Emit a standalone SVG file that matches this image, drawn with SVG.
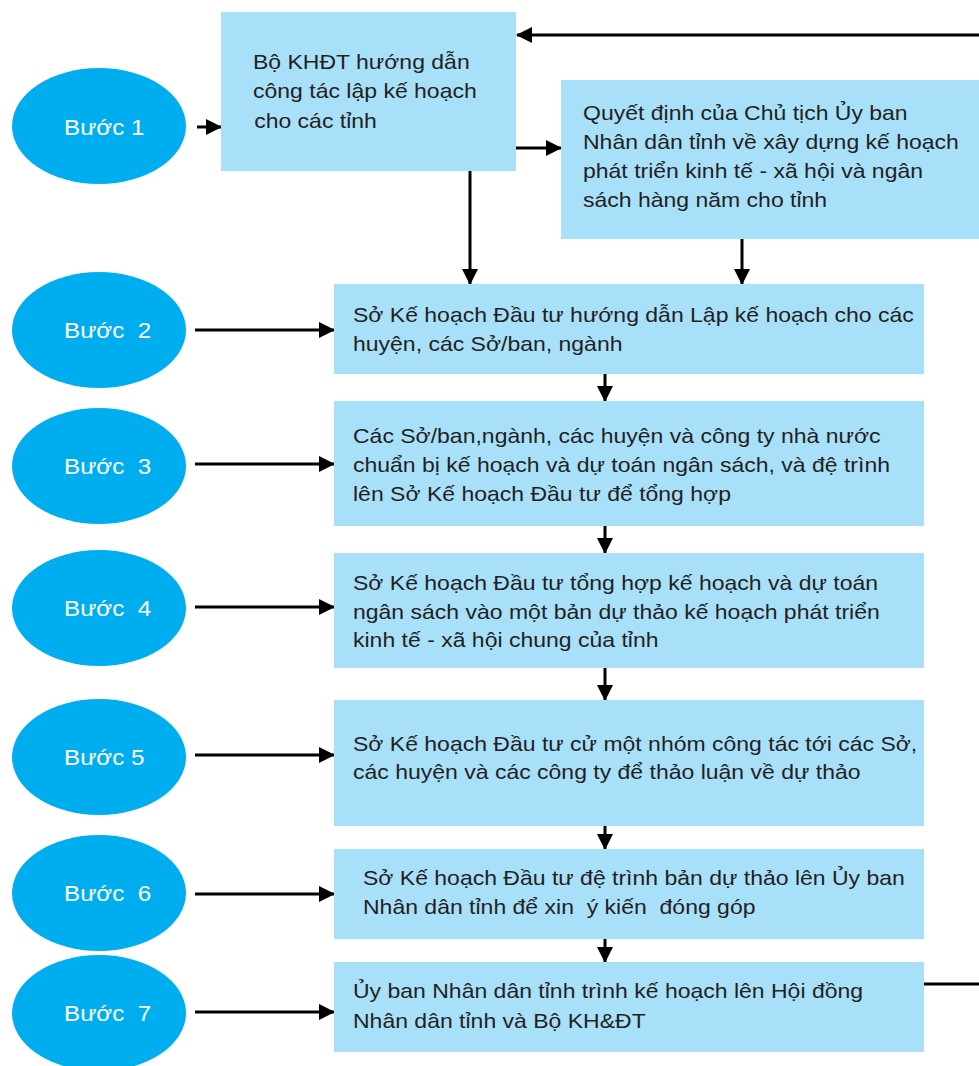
<svg xmlns="http://www.w3.org/2000/svg" width="979" height="1066" viewBox="0 0 979 1066">
<style>
.box{fill:#a9e0f9}
.ell{fill:#00aeef}
.t{font-family:"Liberation Sans",Arial,sans-serif;font-size:20px;fill:#231f20}
.s{font-family:"Liberation Sans",Arial,sans-serif;font-size:22px;fill:#ffffff}
.c{stroke:#000;stroke-width:3;fill:none}
</style>
<defs>
<marker id="ah" markerUnits="userSpaceOnUse" markerWidth="16" markerHeight="16" refX="15" refY="8" orient="auto">
<path d="M0,0 L16,8 L0,16 Z" fill="#000"/>
</marker>
</defs>
<rect width="979" height="1066" fill="#fff"/>
<g id="connectors">
<line class="c" x1="979" y1="35" x2="517" y2="35" marker-end="url(#ah)"/>
<line class="c" x1="197" y1="127" x2="221" y2="127" marker-end="url(#ah)"/>
<line class="c" x1="516" y1="148" x2="561" y2="148" marker-end="url(#ah)"/>
<line class="c" x1="470" y1="171" x2="470" y2="284" marker-end="url(#ah)"/>
<line class="c" x1="742" y1="238" x2="742" y2="284" marker-end="url(#ah)"/>
<line class="c" x1="195" y1="330" x2="334" y2="330" marker-end="url(#ah)"/>
<line class="c" x1="195" y1="464" x2="334" y2="464" marker-end="url(#ah)"/>
<line class="c" x1="195" y1="607" x2="334" y2="607" marker-end="url(#ah)"/>
<line class="c" x1="195" y1="755" x2="334" y2="755" marker-end="url(#ah)"/>
<line class="c" x1="195" y1="894" x2="334" y2="894" marker-end="url(#ah)"/>
<line class="c" x1="195" y1="1012" x2="334" y2="1012" marker-end="url(#ah)"/>
<line class="c" x1="605" y1="374" x2="605" y2="401" marker-end="url(#ah)"/>
<line class="c" x1="605" y1="526" x2="605" y2="553" marker-end="url(#ah)"/>
<line class="c" x1="605" y1="668" x2="605" y2="700" marker-end="url(#ah)"/>
<line class="c" x1="605" y1="826" x2="605" y2="849" marker-end="url(#ah)"/>
<line class="c" x1="605" y1="939" x2="605" y2="962" marker-end="url(#ah)"/>
<line class="c" x1="923" y1="984" x2="979" y2="984"/>
</g>
<g id="buoc1"><ellipse class="ell" cx="99" cy="126" rx="87" ry="58"/><text class="s" transform="translate(64 0) scale(1.1 1)" x="0" y="135">Bước 1</text></g>
<g id="buoc2"><ellipse class="ell" cx="99" cy="330" rx="87" ry="58"/><text class="s" transform="translate(64 0) scale(1.1 1)" x="0" y="338" xml:space="preserve">Bước  2</text></g>
<g id="buoc3"><ellipse class="ell" cx="99" cy="466" rx="87" ry="58"/><text class="s" transform="translate(64 0) scale(1.1 1)" x="0" y="474" xml:space="preserve">Bước  3</text></g>
<g id="buoc4"><ellipse class="ell" cx="99" cy="608" rx="87" ry="58"/><text class="s" transform="translate(64 0) scale(1.1 1)" x="0" y="616" xml:space="preserve">Bước  4</text></g>
<g id="buoc5"><ellipse class="ell" cx="99" cy="757" rx="87" ry="58"/><text class="s" transform="translate(64 0) scale(1.1 1)" x="0" y="765">Bước 5</text></g>
<g id="buoc6"><ellipse class="ell" cx="99" cy="893" rx="87" ry="58"/><text class="s" transform="translate(64 0) scale(1.1 1)" x="0" y="901" xml:space="preserve">Bước  6</text></g>
<g id="buoc7"><ellipse class="ell" cx="99" cy="1013" rx="87" ry="58"/><text class="s" transform="translate(64 0) scale(1.1 1)" x="0" y="1021" xml:space="preserve">Bước  7</text></g>
<g id="box1"><rect class="box" x="221" y="12" width="295" height="159"/>
<g transform="translate(253 0) scale(1.15 1)">
<text class="t" x="0" y="69">Bộ KHĐT hướng dẫn</text>
<text class="t" x="0" y="98">công tác lập kế hoạch</text>
<text class="t" x="1" y="128">cho các tỉnh</text></g></g>
<g id="boxQ"><rect class="box" x="561" y="80" width="418" height="159"/>
<g transform="translate(583 0) scale(1.15 1)">
<text class="t" x="0" y="120">Quyết định của Chủ tịch Ủy ban</text>
<text class="t" x="0" y="149">Nhân dân tỉnh về xây dựng kế hoạch</text>
<text class="t" x="0" y="178">phát triển kinh tế  - xã hội và ngân</text>
<text class="t" x="0" y="207">sách hàng năm cho tỉnh</text></g></g>
<g id="box2"><rect class="box" x="334" y="284" width="590" height="90"/>
<g transform="translate(353 0) scale(1.15 1)">
<text class="t" x="0" y="322">Sở Kế hoạch Đầu tư hướng dẫn Lập kế hoạch cho các</text>
<text class="t" x="0" y="351">huyện, các Sở/ban, ngành</text></g></g>
<g id="box3"><rect class="box" x="334" y="401" width="590" height="125"/>
<g transform="translate(353 0) scale(1.15 1)">
<text class="t" x="0" y="443">Các Sở/ban,ngành, các huyện và công ty nhà nước</text>
<text class="t" x="0" y="472">chuẩn bị kế hoạch và dự toán ngân sách, và đệ trình</text>
<text class="t" x="0" y="501">lên Sở Kế hoạch Đầu tư để tổng hợp</text></g></g>
<g id="box4"><rect class="box" x="334" y="553" width="590" height="115"/>
<g transform="translate(353 0) scale(1.15 1)">
<text class="t" x="0" y="590">Sở Kế hoạch Đầu tư tổng hợp kế hoạch và dự toán</text>
<text class="t" x="0" y="619">ngân sách vào một bản dự thảo kế hoạch phát triển</text>
<text class="t" x="0" y="647">kinh tế - xã hội chung của tỉnh</text></g></g>
<g id="box5"><rect class="box" x="334" y="700" width="590" height="126"/>
<g transform="translate(353 0) scale(1.15 1)">
<text class="t" x="0" y="751">Sở Kế hoạch Đầu tư cử một nhóm công tác tới các Sở,</text>
<text class="t" x="0" y="779">các huyện và các công ty để thảo luận về dự thảo</text></g></g>
<g id="box6"><rect class="box" x="334" y="849" width="590" height="90"/>
<g transform="translate(363 0) scale(1.15 1)">
<text class="t" x="0" y="885">Sở Kế hoạch Đầu tư đệ trình bản dự thảo lên Ủy ban</text>
<text class="t" x="0" y="914" xml:space="preserve">Nhân dân tỉnh để xin  ý kiến  đóng góp</text></g></g>
<g id="box7"><rect class="box" x="334" y="962" width="590" height="90"/>
<g transform="translate(353 0) scale(1.15 1)">
<text class="t" x="0" y="998">Ủy ban Nhân dân tỉnh trình kế hoạch lên Hội đồng</text>
<text class="t" x="0" y="1028">Nhân dân tỉnh và Bộ KH&amp;ĐT</text></g></g>
</svg>
